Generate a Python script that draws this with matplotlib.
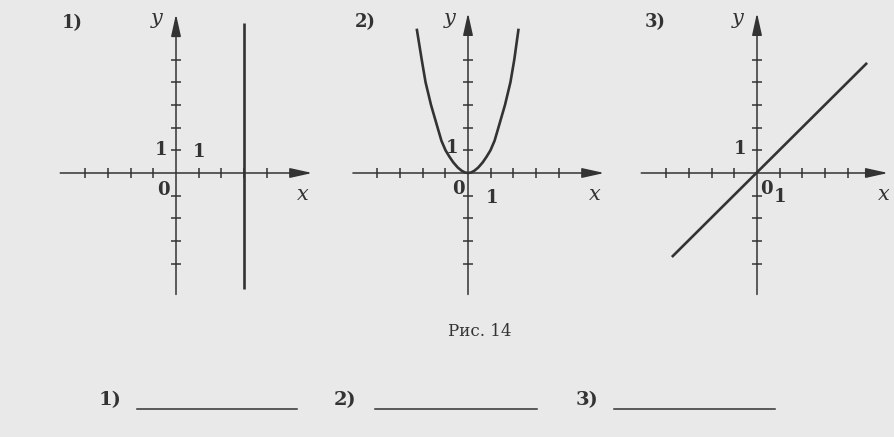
import matplotlib.pyplot as plt
from matplotlib.lines import Line2D

# graph data (units)
line1_x = [3, 3]
line1_y = [6.6, -5.1]

parab_x = [-2.25, -2.04, -1.87, -1.63, -1.34, -1.17, -0.99, -0.82, -0.65, -0.45,
           -0.28, -0.14, 0, 0.14, 0.28, 0.45, 0.65, 0.82, 0.99, 1.17,
           1.34, 1.63, 1.87, 2.04, 2.22]
parab_y = [6.3, 5.0, 4.0, 3.0, 2.0, 1.42, 1.0, 0.72, 0.47, 0.24,
           0.1, 0.025, 0, 0.025, 0.1, 0.24, 0.47, 0.72, 1.0, 1.42,
           2.0, 3.0, 4.0, 5.0, 6.3]

line3_x = [-3.75, 4.85]
line3_y = [-3.7, 4.85]

x_ticks = [-4, -3, -2, -1, 1, 2, 3, 4]
y_ticks = [-4, -3, -2, -1, 1, 2, 3, 4, 5]

# axis extents per panel: (xmin, xmax, ymin, ymax)
extents = [(-5.1, 6.0, -5.35, 7.0),
           (-5.07, 6.0, -5.35, 7.05),
           (-5.1, 5.77, -5.35, 7.05)]

panel_names = ["1)", "2)", "3)"]
caption = "Рис. 14"

W, H = 895, 437
U = 22.7
origins = [(176, 173), (468, 173), (757, 173)]

bg = "#e9e9e9"
ink = "#333333"
serif = "DejaVu Serif"

fig = plt.figure(figsize=(W / 100, H / 100), dpi=100, facecolor=bg)


def make_ax(ox, oy):
    x0, x1, y0, y1 = -6.5, 6.5, -6.0, 7.5
    left = ox + x0 * U
    bottom = (H - oy) + y0 * U
    ax = fig.add_axes([left / W, bottom / H, (x1 - x0) * U / W, (y1 - y0) * U / H])
    ax.set_xlim(x0, x1)
    ax.set_ylim(y0, y1)
    ax.axis("off")
    ax.patch.set_alpha(0)
    return ax


def draw_axes(ax, ext):
    xmin, xmax, ymin, ymax = ext
    arrow = dict(arrowstyle="-|>,head_length=0.9,head_width=0.2", color=ink,
                 lw=1.1, mutation_scale=15, shrinkA=0, shrinkB=0)
    ax.annotate("", xy=(xmax, 0), xytext=(xmin, 0), arrowprops=arrow)
    ax.annotate("", xy=(0, ymax), xytext=(0, ymin), arrowprops=arrow)
    ax.plot(x_ticks, [0] * len(x_ticks), ls="none", marker="|", ms=7, mew=1.1, color=ink)
    ax.plot([0] * len(y_ticks), y_ticks, ls="none", marker="_", ms=7, mew=1.1, color=ink)


axes = [make_ax(*o) for o in origins]
for ax, ext in zip(axes, extents):
    draw_axes(ax, ext)

axes[0].plot(line1_x, line1_y, color=ink, lw=1.9, solid_capstyle="butt")
axes[1].plot(parab_x, parab_y, color=ink, lw=1.9, solid_joinstyle="round")
axes[2].plot(line3_x, line3_y, color=ink, lw=1.9, solid_capstyle="butt")


def ftext(px, py, s, size=13, **kw):
    fig.text(px / W, 1 - py / H, s, ha="center", va="center", fontsize=size,
             family=serif, color=ink, **kw)


# panel labels
for (px, py), s in zip([(72, 23), (365, 22), (655, 22)], panel_names):
    ftext(px, py, s, size=13, fontweight="bold")

# axis names
for px in [157, 450, 738]:
    ftext(px, 18, "y", size=15, style="italic")
for px in [303, 595, 884]:
    ftext(px, 195, "x", size=15, style="italic")

# 0 and 1 labels
ftext(161, 150, "1", fontweight="bold")
ftext(199, 152, "1", fontweight="bold")
ftext(163, 190, "0", fontweight="bold")

ftext(452, 148, "1", fontweight="bold")
ftext(458, 189, "0", fontweight="bold")
ftext(492, 198, "1", fontweight="bold")

ftext(740, 149, "1", fontweight="bold")
ftext(766, 189, "0", fontweight="bold")
ftext(780, 197, "1", fontweight="bold")

ftext(480, 331, caption, size=12)

# answer row
for px, x0, x1, s in [(110, 137, 297, "1)"), (345, 375, 537, "2)"), (587, 614, 775, "3)")]:
    ftext(px, 400, s, size=14, fontweight="bold")
    fig.add_artist(Line2D([x0 / W, x1 / W], [1 - 409 / H, 1 - 409 / H],
                          color=ink, lw=1.1, transform=fig.transFigure))

fig.savefig("out.png", dpi=100, facecolor=bg)
